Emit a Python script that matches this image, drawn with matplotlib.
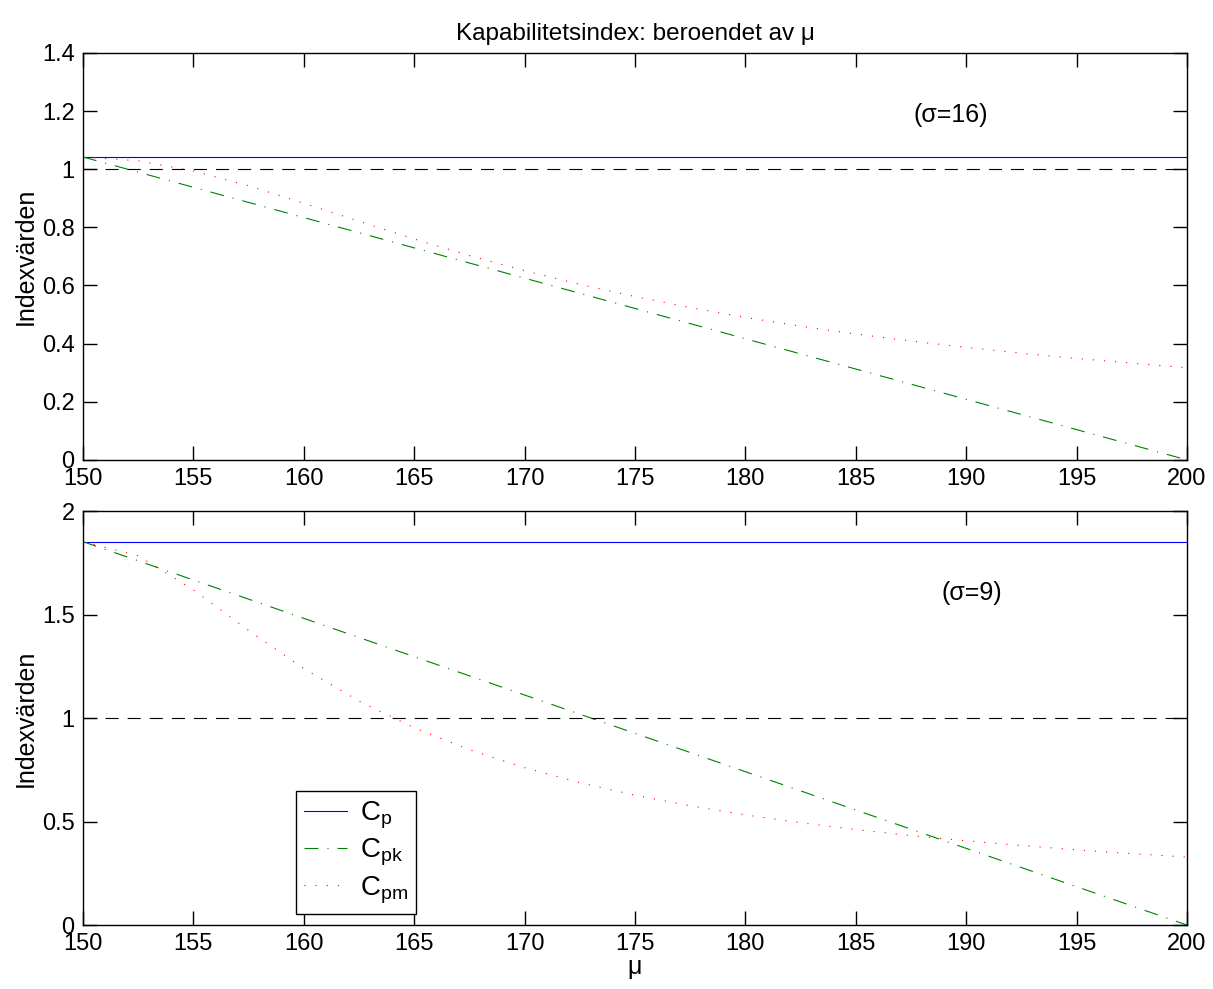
import matplotlib
matplotlib.use('Agg')
import matplotlib.pyplot as plt

plt.rcParams['font.family'] = ['Liberation Sans', 'DejaVu Sans']
plt.rcParams['lines.scale_dashes'] = False

# data
mu = [150, 152.5, 155, 157.5, 160, 162.5, 165, 167.5, 170, 172.5, 175,
      177.5, 180, 182.5, 185, 187.5, 190, 192.5, 195, 197.5, 200]
mu_ends = [150, 200]

# sigma = 16
cp_16 = [1.042, 1.042]
cpk_16 = [1.042, 0.0]
cpm_16 = [1.042, 1.029, 0.994, 0.943, 0.883, 0.821, 0.760, 0.703, 0.651, 0.604, 0.562,
          0.524, 0.490, 0.460, 0.433, 0.409, 0.387, 0.367, 0.349, 0.333, 0.317]

# sigma = 9
cp_9 = [1.852, 1.852]
cpk_9 = [1.852, 0.0]
cpm_9 = [1.852, 1.784, 1.619, 1.423, 1.239, 1.082, 0.953, 0.847, 0.760, 0.688, 0.627,
         0.576, 0.532, 0.494, 0.461, 0.432, 0.407, 0.384, 0.363, 0.345, 0.328]

ref = [1, 1]

dotted = (0, (0.8, 7.2))
dashed = (0, (9.4, 6.5))
dashdot = (0, (10, 6.5, 0.8, 6.5))
lw = 0.8

fig = plt.figure(figsize=(12.13, 9.89), dpi=100)
ax1 = fig.add_axes([0.0684, 0.535, 0.9101, 0.4115])
ax2 = fig.add_axes([0.0684, 0.0647, 0.9101, 0.4186])


def style(ax, ymax, yticks, yticklabels):
    ax.set_xlim(150, 200)
    ax.set_ylim(0, ymax)
    ax.set_xticks(range(150, 201, 5))
    ax.set_yticks(yticks)
    ax.set_yticklabels(yticklabels)
    ax.tick_params(direction='in', top=True, right=True, length=10, width=1,
                   labelsize=17, pad=6)
    for s in ax.spines.values():
        s.set_linewidth(1)
    ax.set_ylabel('Indexvärden', fontsize=18, labelpad=3)


# top
ax1.plot(mu_ends, cp_16, color='#0000ff', lw=lw)
ax1.plot(mu_ends, cpk_16, color='#008000', lw=lw, linestyle=dashdot)
ax1.plot(mu, cpm_16, color='#ff0000', lw=lw, linestyle=dotted)
ax1.plot(mu_ends, ref, color='black', lw=lw, linestyle=dashed)
style(ax1, 1.4, [0, 0.2, 0.4, 0.6, 0.8, 1, 1.2, 1.4],
      ['0', '0.2', '0.4', '0.6', '0.8', '1', '1.2', '1.4'])
ax1.text(187.6, 1.185, '(σ=16)', fontsize=18, va='center', ha='left')
ax1.set_title('Kapabilitetsindex: beroendet av μ', fontsize=17.5, pad=9)

# bottom
l1, = ax2.plot(mu_ends, cp_9, color='#0000ff', lw=lw)
l2, = ax2.plot(mu_ends, cpk_9, color='#008000', lw=lw, linestyle=dashdot)
l3, = ax2.plot(mu, cpm_9, color='#ff0000', lw=lw, linestyle=dotted)
ax2.plot(mu_ends, ref, color='black', lw=lw, linestyle=dashed)
style(ax2, 2, [0, 0.5, 1, 1.5, 2], ['0', '0.5', '1', '1.5', '2'])
ax2.text(188.9, 1.605, '(σ=9)', fontsize=18, va='center', ha='left')
ax2.set_xlabel('μ', fontsize=18, labelpad=0)

leg = ax2.legend([l1, l2, l3],
                 ['C$_\\mathregular{p}$', 'C$_\\mathregular{pk}$', 'C$_\\mathregular{pm}$'],
                 loc='lower left', bbox_to_anchor=(0.193, 0.027), borderaxespad=0,
                 fontsize=20, frameon=True, fancybox=False, framealpha=1,
                 handlelength=1.55, handletextpad=0.45, labelspacing=0.2,
                 borderpad=0.3)
leg.get_frame().set_edgecolor('black')
leg.get_frame().set_linewidth(1)

fig.savefig('out.png', dpi=100)
